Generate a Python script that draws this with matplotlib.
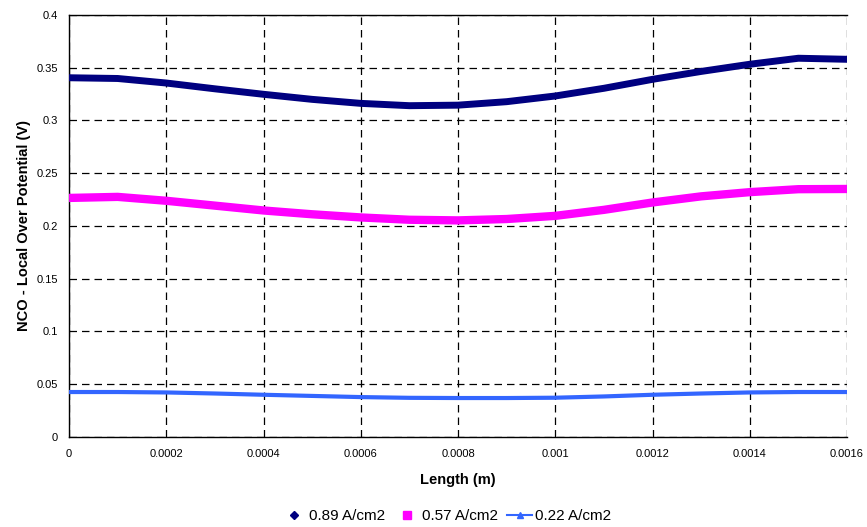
import matplotlib.pyplot as plt
from matplotlib.lines import Line2D
from matplotlib.ticker import FuncFormatter

plt.rcParams['font.family'] = ['Liberation Sans', 'DejaVu Sans']

# data
length = [0, 0.0001, 0.0002, 0.0003, 0.0004, 0.0005, 0.0006, 0.0007, 0.0008,
          0.0009, 0.001, 0.0011, 0.0012, 0.0013, 0.0014, 0.0015, 0.0016]
v_089 = [0.3405, 0.3398, 0.3355, 0.3300, 0.3248, 0.3200, 0.3162, 0.3140, 0.3145,
         0.3178, 0.3232, 0.3305, 0.3390, 0.3465, 0.3533, 0.3590, 0.3580]
v_057 = [0.2265, 0.2275, 0.2238, 0.2192, 0.2146, 0.2110, 0.2080, 0.2058, 0.2052,
         0.2065, 0.2095, 0.2152, 0.2222, 0.2280, 0.2320, 0.2348, 0.2350]
v_022 = [0.0424, 0.0424, 0.0420, 0.0410, 0.0398, 0.0387, 0.0376, 0.0369, 0.0367,
         0.0367, 0.0370, 0.0382, 0.0398, 0.0410, 0.0420, 0.0424, 0.0424]
labels = ['0.89 A/cm2', '0.57 A/cm2', '0.22 A/cm2']
colors = ['#000080', '#FF00FF', '#3366FF']

fig = plt.figure(figsize=(8.67, 5.27), dpi=100)
ax = fig.add_axes([0.0796, 0.1713, 0.8974, 0.8002])

# dense Excel markers merge into a thick band, so draw them as thick lines
ax.plot(length, v_089, color=colors[0], lw=5.0, solid_capstyle='round', zorder=3)
ax.plot(length, v_057, color=colors[1], lw=6.0, solid_capstyle='butt', zorder=3)
ax.plot(length, v_022, color=colors[2], lw=3.0, solid_capstyle='butt', zorder=3)

ax.set_xlim(0, 0.0016)
ax.set_ylim(0, 0.4)
ax.set_xticks([i * 0.0002 for i in range(9)])
ax.set_yticks([i * 0.05 for i in range(9)])
ax.xaxis.set_major_formatter(FuncFormatter(lambda v, p: '%g' % round(v, 6)))
ax.yaxis.set_major_formatter(FuncFormatter(lambda v, p: '%g' % round(v, 3)))
ax.tick_params(length=0, labelsize=8)
ax.tick_params(axis='y', pad=8)
ax.tick_params(axis='x', pad=9)

ax.grid(True, color='black', linestyle=(0, (6, 4)), linewidth=0.9)
ax.spines['right'].set_visible(False)
for s in ['left', 'bottom', 'top']:
    ax.spines[s].set_linewidth(1.0)

ax.set_xlabel('Length (m)', fontsize=10.5, fontweight='bold', labelpad=10)
ax.set_ylabel('NCO - Local Over Potential (V)', fontsize=10.5, fontweight='bold', labelpad=4)

handles = [
    Line2D([], [], color=colors[0], marker='D', markersize=4.5, linestyle='none'),
    Line2D([], [], color=colors[1], marker='s', markersize=6, linestyle='none'),
    Line2D([], [], color=colors[2], marker='^', markersize=4, linestyle='-', lw=1.5),
]
fig.legend(handles, labels, loc='center', bbox_to_anchor=(0.515, 0.02), ncol=3,
           frameon=False, fontsize=11, handlelength=1.6, handletextpad=0.2,
           columnspacing=0.6)

fig.savefig('out.png', dpi=100)
